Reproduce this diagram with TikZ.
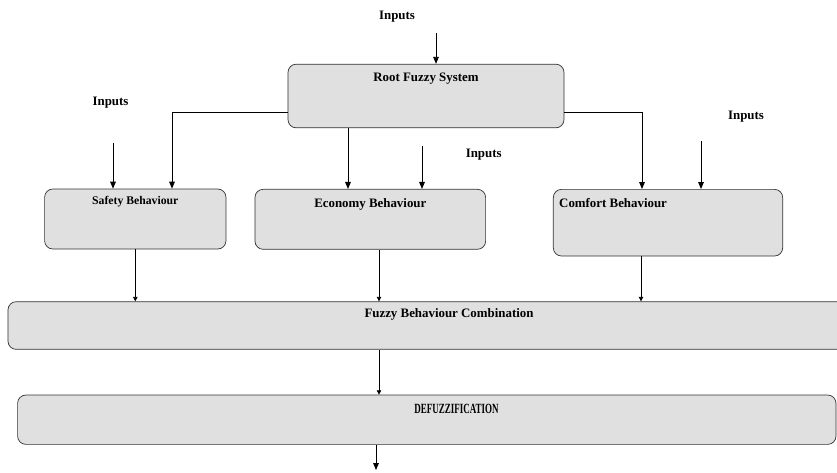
\documentclass[tikz,border=0pt]{standalone}
\usepackage{fontspec}
\setmainfont{Liberation Serif}
\usepackage{graphicx}
\usepackage{tikz}
\usetikzlibrary{arrows.meta, positioning, calc}

\begin{document}
\begin{tikzpicture}[
  x=0.03cm, y=-0.03cm,
  box/.style={rectangle, rounded corners=7pt, draw=black!80, line width=0.6pt, fill=black!12},
  lbl/.style={font=\fontsize{11}{13}\selectfont\bfseries, inner sep=0pt},
  arr/.style={-{Triangle[length=2.1mm,width=1.7mm]}, line width=0.75pt},
  thinarr/.style={-{Triangle[length=1.3mm,width=1.3mm]}, line width=0.6pt}
]
  \useasboundingbox (0,0) rectangle (837,472);

  % boxes
  \node[box, minimum width=8.28cm, minimum height=1.91cm] (root) at (426,96) {};
  \node[box, minimum width=5.44cm, minimum height=1.8cm] (safety) at (135.3,219) {};
  \node[box, minimum width=6.92cm, minimum height=1.8cm] (economy) at (370.3,219.3) {};
  \node[box, minimum width=6.88cm, minimum height=2cm] (comfort) at (668,222.7) {};
  \node[box, minimum width=26.46cm, minimum height=1.43cm] (combo) at (449,325.5) {};
  \node[box, minimum width=24.55cm, minimum height=1.48cm] (defuzz) at (426.8,419.7) {};

  % box texts
  \node[lbl] (rootlbl) at ($(root.north)+(0,15)$) {Root Fuzzy System};
  \node[lbl, font=\fontsize{10}{12}\selectfont\bfseries] (safetylbl) at ($(safety.north)+(0,12.7)$) {Safety Behaviour};
  \node[lbl] (economylbl) at ($(economy.north)+(0,15)$) {Economy Behaviour};
  \node[lbl, anchor=west] (comfortlbl) at ($(comfort.north west)+(6,14.4)$) {Comfort Behaviour};
  \node[lbl] (combolbl) at ($(combo.north)+(0,13.3)$) {Fuzzy Behaviour Combination};
  \node[lbl, font=\fontsize{12}{14}\selectfont\bfseries] (defuzzlbl) at ($(defuzz.north)+(29.7,14)$) {\scalebox{0.64}[1]{DEFUZZIFICATION}};

  % inputs
  \node[lbl] (in0) at (397,17) {Inputs};
  \node[lbl] (in1) at (110.5,103) {Inputs};
  \node[lbl] (in2) at (483.7,155) {Inputs};
  \node[lbl] (in3) at (746,117) {Inputs};
  \coordinate (a0) at (436,33);
  \coordinate (a1) at (113,143);
  \coordinate (a2) at (422,146);
  \coordinate (a3) at (701,141);
  \coordinate (out) at (376,470);

  \draw[arr] (a0) -- (a0 |- root.north);
  \draw[arr] (a1) -- (a1 |- safety.north);
  \draw[arr] (a2) -- (a2 |- economy.north);
  \draw[arr] (a3) -- (a3 |- comfort.north);

  % root to behaviours
  \draw[arr] ($(root.west)+(0,16)$) -| (safety.north -| 172,0);
  \draw[arr] (root.south -| 348,0) -- (economy.north -| 348,0);
  \draw[arr] ($(root.east)+(0,16)$) -| (comfort.north -| 642,0);

  % behaviours to combination
  \draw[thinarr] (safety.south) -- (safety.south |- combo.north);
  \draw[thinarr] (economy.south -| 379,0) -- (combo.north -| 379,0);
  \draw[thinarr] (comfort.south -| 641,0) -- (combo.north -| 641,0);

  \draw[thinarr] (combo.south -| 379,0) -- (defuzz.north -| 379,0);
  \draw[arr] (defuzz.south -| out) -- (out);
\end{tikzpicture}
\end{document}
